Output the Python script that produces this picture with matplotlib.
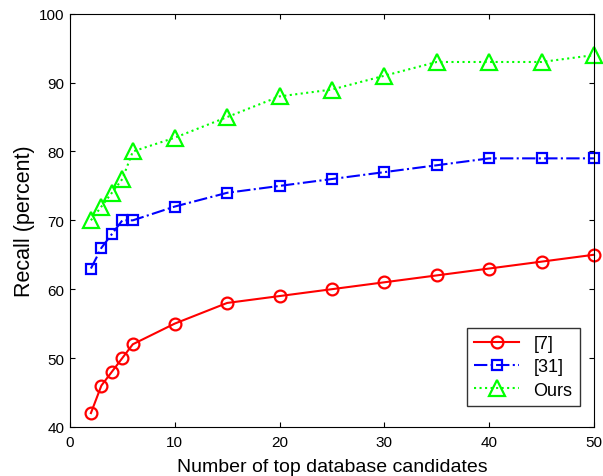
import matplotlib
matplotlib.use("Agg")
import matplotlib.pyplot as plt

plt.rcParams["font.family"] = ["Liberation Sans", "DejaVu Sans"]

k = [2, 3, 4, 5, 6, 10, 15, 20, 25, 30, 35, 40, 45, 50]
ref7 = [42, 46, 48, 50, 52, 55, 58, 59, 60, 61, 62, 63, 64, 65]
ref31 = [63, 66, 68, 70, 70, 72, 74, 75, 76, 77, 78, 79, 79, 79]
ours = [70, 72, 74, 76, 80, 82, 85, 88, 89, 91, 93, 93, 93, 94]

fig = plt.figure(figsize=(6.03, 4.77), dpi=100)
ax = fig.add_axes([0.116, 0.103, 0.869, 0.866])

ax.plot(k, ref7, "-o", color="#ff0000", lw=1.5, ms=8.5, mfc="none", mew=1.6, label="[7]", clip_on=False)
ax.plot(k, ref31, "-.s", color="#0000ff", lw=1.5, ms=7, mfc="none", mew=1.6, label="[31]", clip_on=False)
ax.plot(k, ours, ":^", color="#00ff00", lw=1.5, ms=11, mfc="none", mew=1.6, label="Ours", clip_on=False)

ax.set_xlim(0, 50)
ax.set_ylim(40, 100)
ax.set_xticks(range(0, 51, 10))
ax.set_yticks(range(40, 101, 10))
ax.tick_params(direction="in", labelsize=11, top=True, right=True)
ax.tick_params(axis="x", pad=6)
ax.tick_params(axis="y", pad=4)
ax.set_xlabel("Number of top database candidates", fontsize=14, labelpad=6)
ax.set_ylabel("Recall (percent)", fontsize=15.5, labelpad=3)

leg = ax.legend(loc="lower right", bbox_to_anchor=(0.973, 0.051), borderaxespad=0,
                fontsize=13, fancybox=False, edgecolor="black",
                handlelength=2.5, labelspacing=0.35)
leg.get_frame().set_linewidth(1.0)

fig.savefig("out.png", dpi=100)
